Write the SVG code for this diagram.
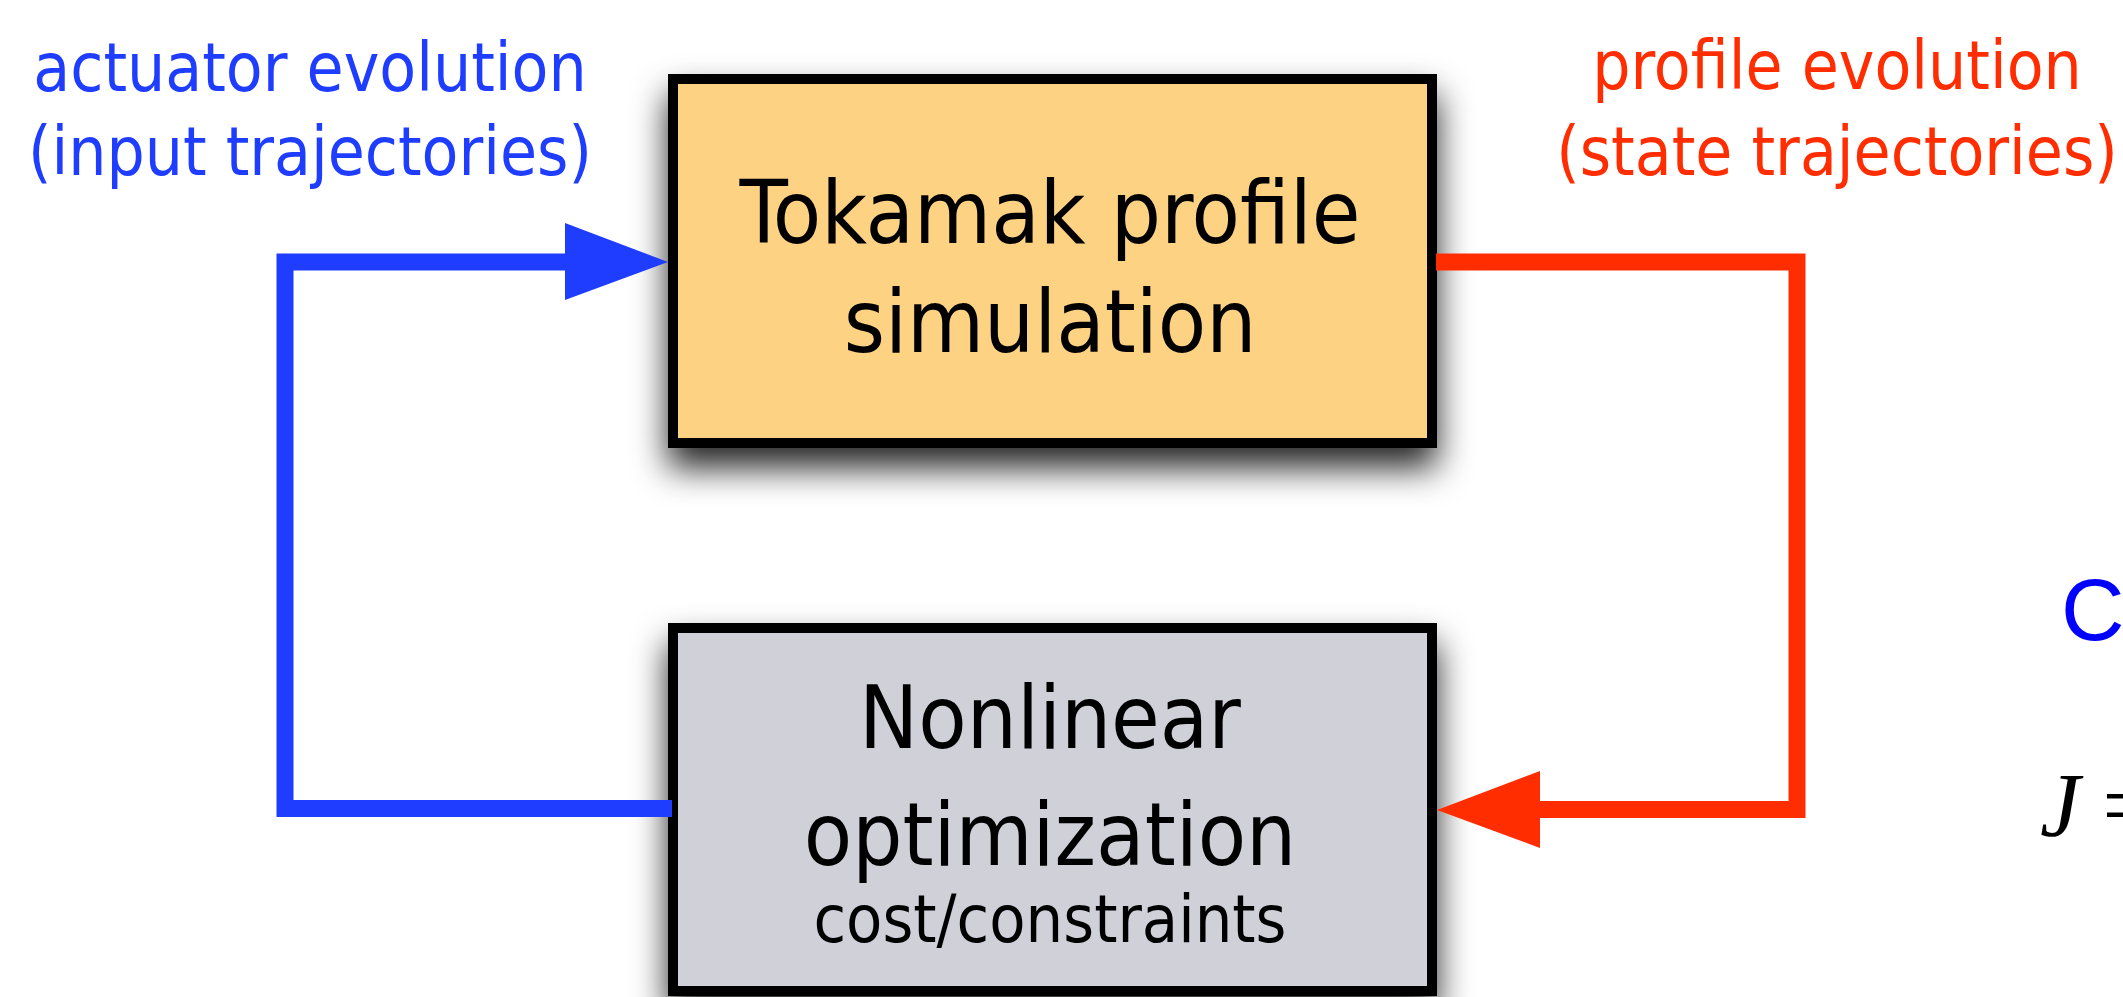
<svg xmlns="http://www.w3.org/2000/svg" width="2123" height="997" viewBox="0 0 2123 997">
  <style>
    .lbl { font-family: "DejaVu Sans Condensed", "DejaVu Sans", sans-serif; font-stretch: condensed; text-anchor: middle; }
    .big { font-size: 88px; fill: #000; }
    .small { font-size: 66px; fill: #000; }
    .side { font-size: 67px; }
    .blue { fill: #1F3DFF; }
    .red { fill: #FF2D00; }
    .box { stroke: #000; stroke-width: 10; }
    .wire { fill: none; stroke-width: 17; stroke-linejoin: miter; stroke-linecap: butt; }
  </style>
  <defs>
    <filter id="shadow" x="-20%" y="-30%" width="140%" height="180%">
      <feDropShadow dx="0" dy="20" stdDeviation="17" flood-color="#000" flood-opacity="0.85"/>
    </filter>
  </defs>

  <rect width="2123" height="997" fill="#fff"/>

  <!-- side labels -->
  <g id="label-actuator">
    <text class="lbl side blue" x="310" y="91">actuator evolution</text>
    <text class="lbl side blue" x="310" y="175">(input trajectories)</text>
  </g>
  <g id="label-profile">
    <text class="lbl side red" x="1837" y="89">profile evolution</text>
    <text class="lbl side red" x="1837" y="175">(state trajectories)</text>
  </g>

  <!-- simulation block -->
  <g id="node-simulation">
    <rect class="box" x="673" y="79" width="759" height="364" fill="#FDD383" filter="url(#shadow)"/>
    <text class="lbl big" x="1050" y="243">Tokamak profile</text>
    <text class="lbl big" x="1050" y="352">simulation</text>
  </g>

  <!-- optimization block -->
  <g id="node-optimization">
    <rect class="box" x="673" y="628" width="759" height="363" fill="#CFD0D8" filter="url(#shadow)"/>
    <text class="lbl big" x="1050" y="748">Nonlinear</text>
    <text class="lbl big" x="1050" y="865">optimization</text>
    <text class="lbl small" x="1050" y="942">cost/constraints</text>
  </g>

  <!-- feedback loop -->
  <g id="connectors">
    <path class="wire" stroke="#1F3DFF" d="M 672 808.5 H 285 V 262 H 566"/>
    <polygon fill="#1F3DFF" points="565,223 668,262 565,300"/>
    <path class="wire" stroke="#FF2D00" d="M 1436 262 H 1797 V 809.5 H 1539"/>
    <polygon fill="#FF2D00" points="1540,771 1437,810 1540,848"/>
  </g>

  <!-- cost function text running off the right margin -->
  <g id="cost-text">
    <text x="2061" y="640" font-family="Liberation Sans, Arial, sans-serif" font-size="88" fill="#0000FF">C</text>
    <text x="2040" y="836" font-family="Liberation Serif, Times New Roman, serif" font-size="90" fill="#000"><tspan font-style="italic">J</tspan> =</text>
  </g>
</svg>
